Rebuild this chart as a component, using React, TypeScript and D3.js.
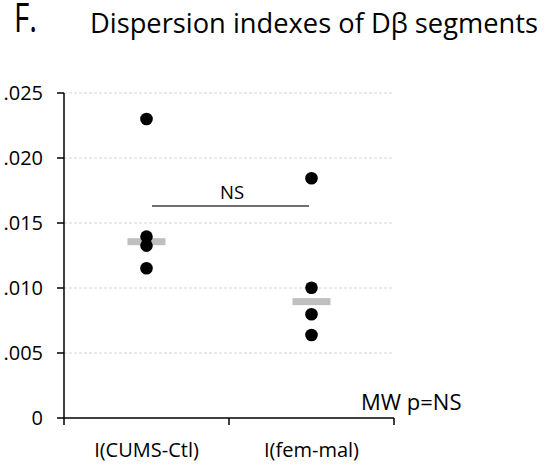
import React from "react";
import * as d3 from "d3";

const categories = ["I(CUMS-Ctl)", "I(fem-mal)"];
const pointsCUMS = [0.0230, 0.01395, 0.01326, 0.01152];
const pointsFemMal = [0.01844, 0.01002, 0.00798, 0.00638];
const means = [0.01356, 0.00895];
const yTicks = [0, 0.005, 0.01, 0.015, 0.02, 0.025];
const yTickLabels = ["0", ".005", ".010", ".015", ".020", ".025"];
const nsBarValue = 0.0163;

const W = 555;
const H = 471;
const FONT = "'Open Sans', sans-serif";

export default function App() {
  const left = 64, right = 394, top = 93, bottom = 418;
  const y = d3.scaleLinear().domain([0, 0.025]).range([bottom, top]);
  const x = d3.scaleBand<string>().domain(categories).range([left, right]);
  const cx = (c: string) => (x(c) as number) + x.bandwidth() / 2;
  const series = [pointsCUMS, pointsFemMal];
  const xTicks = [left, left + x.bandwidth(), right];

  return (
    <svg width={W} height={H} style={{ position: "absolute", left: 0, top: 0, background: "#fff" }} fontFamily={FONT}>
      <rect x={0} y={0} width={W} height={H} fill="#fff" />
      <text x={14} y={32} fontSize={40} fill="#000" textLength={23} lengthAdjust="spacingAndGlyphs">F.</text>
      <text x={90} y={33} fontSize={27} fill="#000" textLength={448} lengthAdjust="spacingAndGlyphs">Dispersion indexes of Dβ segments</text>

      {yTicks.filter((t) => t > 0).map((t) => (
        <line key={"g" + t} x1={left} x2={right} y1={y(t)} y2={y(t)} stroke="#d6d6d6" strokeWidth={1} strokeDasharray="3,2" />
      ))}

      <line x1={left} x2={left} y1={top} y2={bottom} stroke="#000" strokeWidth={1.5} />
      <line x1={left} x2={right} y1={bottom} y2={bottom} stroke="#000" strokeWidth={1.5} />
      {yTicks.map((t, i) => (
        <g key={"yt" + t}>
          <line x1={left - 7} x2={left} y1={y(t)} y2={y(t)} stroke="#000" strokeWidth={1.5} />
          <text x={43} y={y(t)} dy="0.36em" textAnchor="end" fontSize={20} fill="#000">{yTickLabels[i]}</text>
        </g>
      ))}
      {xTicks.map((xt) => (
        <line key={"xt" + xt} x1={xt} x2={xt} y1={bottom} y2={bottom + 7} stroke="#000" strokeWidth={1.5} />
      ))}
      {categories.map((c) => (
        <text key={c} x={cx(c)} y={457} textAnchor="middle" fontSize={20} fill="#000">{c}</text>
      ))}

      {categories.map((c, i) => (
        <rect key={"m" + c} x={cx(c) - 19} y={y(means[i]) - 3.5} width={38} height={7} fill="#bfbfbf" />
      ))}
      {categories.map((c, i) =>
        series[i].map((v, j) => (
          <circle key={c + j} cx={cx(c)} cy={y(v)} r={6.3} fill="#000" />
        ))
      )}

      <line x1={152} x2={309} y1={y(nsBarValue)} y2={y(nsBarValue)} stroke="#404040" strokeWidth={1.5} />
      <text x={232} y={199} textAnchor="middle" fontSize={18.5} fill="#000">NS</text>
      <text x={361} y={410} fontSize={22} fill="#000">MW p=NS</text>
    </svg>
  );
}
